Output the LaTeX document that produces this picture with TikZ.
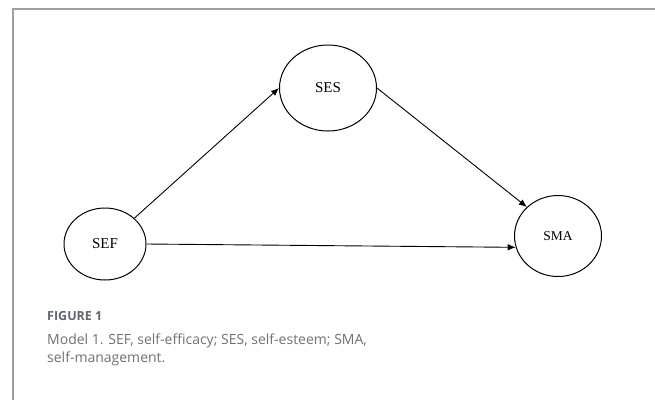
\documentclass[tikz,border=0pt]{standalone}
\usepackage{fontspec}
\setmainfont{Liberation Serif}
\newfontfamily\capfont{Open Sans}
\usetikzlibrary{shapes,arrows,arrows.meta,positioning}
\definecolor{frameGray}{RGB}{160,160,160}
\definecolor{capGray}{RGB}{110,112,115}
\definecolor{figGray}{RGB}{95,102,110}

\begin{document}
\begin{tikzpicture}[x=1pt,y=-1pt,
    var/.style={draw,ellipse,line width=1pt,inner sep=0pt},
    path/.style={-{Latex[length=8pt,width=6.5pt]},line width=0.9pt}]
\useasboundingbox (0,0) rectangle (655,400);
\draw[frameGray,line width=1.2pt] (655,9) -- (13,9) -- (13,400);

% variables
\node[var,minimum width=82pt,minimum height=72pt,font=\fontsize{15}{17}\selectfont] (sef) at (105,244) {SEF};
\node[var,minimum width=97pt,minimum height=86pt,font=\fontsize{15}{17}\selectfont] (ses) at (328,88) {SES};
\node[var,minimum width=87pt,minimum height=81pt,font=\fontsize{13.5}{15}\selectfont] (sma) at (558,236) {SMA};

% paths
\draw[path] (sef.north east) -- (ses.west);
\draw[path] (ses.east) -- (sma.north west);
\draw[path] (sef.east) -- (sma.195);

% caption
\node[anchor=west,inner sep=0pt,text=figGray,font=\capfont\bfseries\fontsize{12.5}{14}\selectfont] (fig) at (47,316) {FIGURE 1};
\node[anchor=north west,inner sep=0pt,align=left,text=capGray,font=\capfont\fontsize{14}{18}\selectfont] (cap) at (47,334) {Model 1. SEF, self-efficacy; SES, self-esteem; SMA,\\self-management.};
\end{tikzpicture}
\end{document}
